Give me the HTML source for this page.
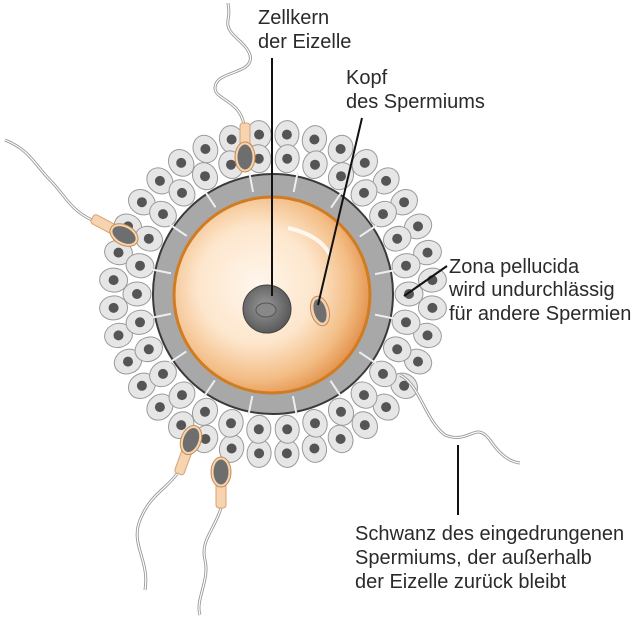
<!DOCTYPE html>
<html><head><meta charset="utf-8"><style>
html,body{margin:0;padding:0;background:#fff;}
svg{display:block;}
text{font-family:"Liberation Sans",sans-serif;font-size:20px;fill:#2a2a2a;}
</style></head><body>
<svg id="s" width="644" height="626" viewBox="0 0 644 626" xmlns="http://www.w3.org/2000/svg">
<defs>
<radialGradient id="eg" cx="0.42" cy="0.45" r="0.6">
<stop offset="0" stop-color="#fff6ec"/><stop offset="0.5" stop-color="#fde6cc"/><stop offset="0.8" stop-color="#f3bd85"/><stop offset="1" stop-color="#e2904a"/>
</radialGradient>
<radialGradient id="ng" cx="0.45" cy="0.45" r="0.6"><stop offset="0" stop-color="#999"/><stop offset="1" stop-color="#555"/></radialGradient>
</defs>
<g id="cells"></g>
<circle cx="273" cy="294" r="120" fill="#a8a8a8" stroke="#3a3a3a" stroke-width="2"/>
<g id="spk" stroke="#eee" stroke-width="2"></g>
<circle cx="272" cy="295" r="98" fill="url(#eg)" stroke="#d27c22" stroke-width="3"/>
<path d="M288 228 Q320 235 330 255" stroke="#fff" stroke-width="4" fill="none" opacity="0.8"/>
<circle cx="267" cy="309" r="24" fill="url(#ng)" stroke="#444"/>
<ellipse cx="266" cy="310" rx="10" ry="7" fill="#888" stroke="#555"/>
<g transform="translate(320,311) rotate(-15)"><ellipse rx="9" ry="15" fill="#f3d2b0" stroke="#c98a50"/><ellipse rx="6" ry="12" fill="#6f6f6f"/></g>
<g fill="none" stroke="#999" stroke-width="3">
<path d="M244 125 C240 100 215 100 215 88 C215 70 255 75 250 55 C245 40 225 35 228 20 C230 10 228 5 228 3"/>
<path d="M92 220 C70 210 65 195 50 180 C35 165 30 150 5 140"/>
<path d="M177 474 C165 490 150 495 140 520 C130 545 150 560 145 590"/>
<path d="M222 505 C215 530 200 540 205 560 C210 580 195 600 200 615"/>
<path d="M400 375 C420 385 425 420 445 435 C470 445 475 420 490 440 C500 455 510 462 520 463"/>
</g>
<g fill="none" stroke="#fff" stroke-width="1.2">
<path d="M244 125 C240 100 215 100 215 88 C215 70 255 75 250 55 C245 40 225 35 228 20 C230 10 228 5 228 3"/>
<path d="M92 220 C70 210 65 195 50 180 C35 165 30 150 5 140"/>
<path d="M177 474 C165 490 150 495 140 520 C130 545 150 560 145 590"/>
<path d="M222 505 C215 530 200 540 205 560 C210 580 195 600 200 615"/>
<path d="M400 375 C420 385 425 420 445 435 C470 445 475 420 490 440 C500 455 510 462 520 463"/>
</g>
<g transform="translate(245,157) rotate(0)"><rect x="-5" y="-34" width="10" height="24" rx="3" fill="#f7d4b0" stroke="#d9a070"/><ellipse rx="10" ry="15" fill="#f7d4b0" stroke="#c98a50"/><ellipse rx="7.5" ry="12.5" fill="#6e6e6e"/></g>
<g transform="translate(124,235) rotate(-62)"><rect x="-5" y="-36" width="10" height="26" rx="3" fill="#f7d4b0" stroke="#d9a070"/><ellipse rx="10" ry="15" fill="#f7d4b0" stroke="#c98a50"/><ellipse rx="7.5" ry="12.5" fill="#6e6e6e"/></g>
<g transform="translate(191,440) rotate(200)"><rect x="-5" y="-36" width="10" height="26" rx="3" fill="#f7d4b0" stroke="#d9a070"/><ellipse rx="10" ry="15" fill="#f7d4b0" stroke="#c98a50"/><ellipse rx="7.5" ry="12.5" fill="#6e6e6e"/></g>
<g transform="translate(221,472) rotate(180)"><rect x="-5" y="-36" width="10" height="26" rx="3" fill="#f7d4b0" stroke="#d9a070"/><ellipse rx="10" ry="15" fill="#f7d4b0" stroke="#c98a50"/><ellipse rx="7.5" ry="12.5" fill="#6e6e6e"/></g>
<g stroke="#111" stroke-width="2">
<line x1="272" y1="58" x2="272" y2="296"/>
<line x1="362" y1="118" x2="318" y2="305"/>
<line x1="447" y1="266" x2="404" y2="296"/>
<line x1="458" y1="445" x2="458" y2="515"/>
</g>
<text x="258" y="24">Zellkern</text><text x="258" y="48">der Eizelle</text>
<text x="346" y="84">Kopf</text><text x="346" y="108">des Spermiums</text>
<text x="449" y="273">Zona pellucida</text><text x="449" y="296">wird undurchlässig</text><text x="449" y="320">für andere Spermien</text>
<text x="355" y="540">Schwanz des eingedrungenen</text><text x="355" y="564">Spermiums, der außerhalb</text><text x="355" y="588">der Eizelle zurück bleibt</text>
</svg>
<script>
var NS="http://www.w3.org/2000/svg",cx=273,cy=294,g=document.getElementById('cells'),sp=document.getElementById('spk');
function cell(x,y,a){var e=document.createElementNS(NS,'ellipse');e.setAttribute('cx',x);e.setAttribute('cy',y);e.setAttribute('rx',12);e.setAttribute('ry',14);e.setAttribute('transform','rotate('+a+' '+x+' '+y+')');e.setAttribute('fill','#e6e6e6');e.setAttribute('stroke','#9a9a9a');g.appendChild(e);
var d=document.createElementNS(NS,'circle');d.setAttribute('cx',x);d.setAttribute('cy',y);d.setAttribute('r',5);d.setAttribute('fill','#555');g.appendChild(d);}
function ring(r,n,off){for(var i=0;i<n;i++){var t=(i+off)/n*2*Math.PI;var x=cx+r*Math.cos(t),y=cy+r*Math.sin(t);cell(x.toFixed(1),y.toFixed(1),(t*180/Math.PI+90).toFixed(0));}}
ring(160,36,0.5);ring(136,30,0);
for(var i=0;i<16;i++){var t=i/16*2*Math.PI+0.2;var l=document.createElementNS(NS,'line');l.setAttribute('x1',cx+104*Math.cos(t));l.setAttribute('y1',cy+104*Math.sin(t));l.setAttribute('x2',cx+124*Math.cos(t));l.setAttribute('y2',cy+124*Math.sin(t));sp.appendChild(l);}
</script>
</body></html>
